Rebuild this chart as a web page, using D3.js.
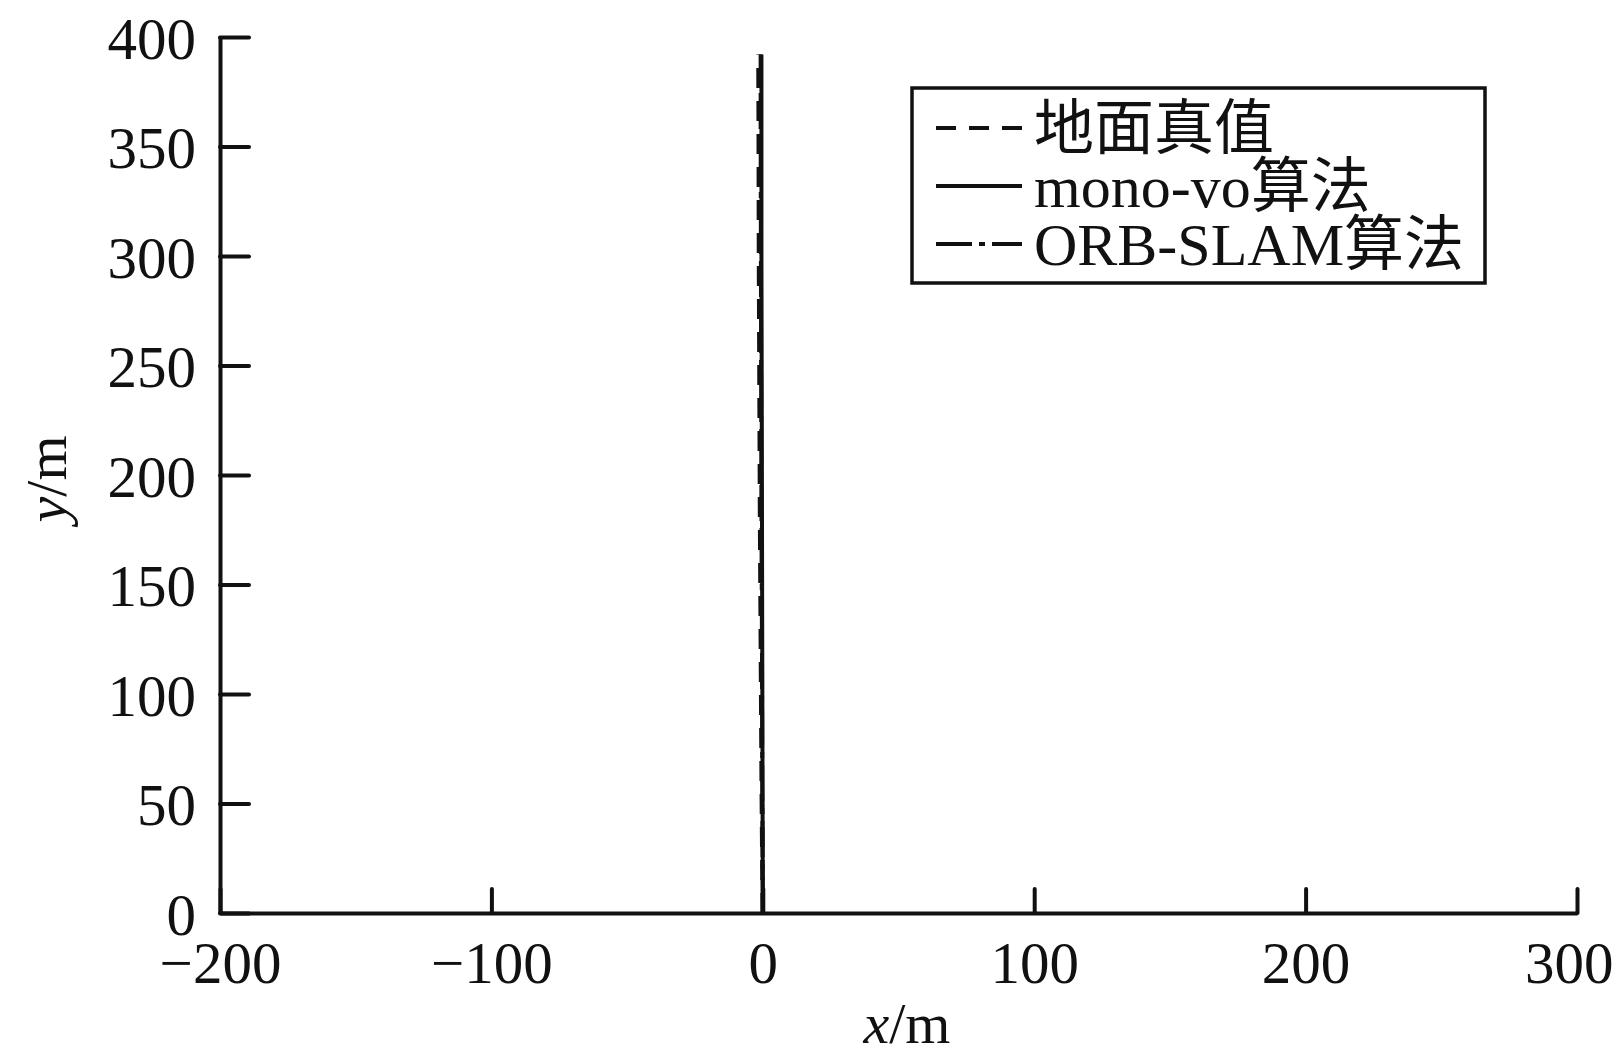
<!DOCTYPE html>
<html>
<head>
<meta charset="utf-8">
<script src="https://cdn.jsdelivr.net/npm/d3@7"></script>
<style>
  body { margin: 0; background: #fff; }
  text { font-family: "Liberation Serif", "Noto Sans CJK SC", serif; fill: #111; }
</style>
</head>
<body>
<div id="chart"></div>
<script>
// trajectory data (x/m, y/m)
var yVals = [0, 60, 120, 180, 240, 300, 360, 392];
var truthX = [0, -0.4, -0.7, -1.0, -1.2, -1.4, -1.5, -1.6];
var monoX = [0, -0.1, -0.2, -0.3, -0.4, -0.5, -0.5, -0.5];
var orbX = [0, -0.2, -0.3, -0.5, -0.6, -0.7, -0.8, -0.8];

var xTicks = [-200, -100, 0, 100, 200, 300];
var yTicks = [0, 50, 100, 150, 200, 250, 300, 350, 400];
var legendNames = ["地面真值", "mono-vo算法", "ORB-SLAM算法"];
var legendDash = ["20,13", null, "36,7,6,7"];

var W = 1616, H = 1060;
var svg = d3.select("#chart").append("svg")
  .attr("width", W)
  .attr("height", H);

var x = d3.scaleLinear().domain([-200, 300]).range([220, 1577]);
var y = d3.scaleLinear().domain([0, 400]).range([913, 37]);

var INK = "#111";

// axes: only bottom and left, ticks point inward
var xAxis = d3.axisBottom(x).tickValues(xTicks).tickSizeInner(-24).tickSizeOuter(0)
  .tickFormat(function(d) { return d < 0 ? "\u2212" + Math.abs(d) : d; });
var yAxis = d3.axisLeft(y).tickValues(yTicks).tickSizeInner(-29).tickSizeOuter(0);

var gx = svg.append("g")
  .attr("transform", "translate(0," + y(0) + ")")
  .call(xAxis);
gx.select(".domain").attr("stroke", INK).attr("stroke-width", 4);
gx.selectAll(".tick line").attr("stroke", INK).attr("stroke-width", 4).attr("stroke-linecap", "round");
gx.selectAll(".tick text")
  .attr("y", 28)
  .attr("dy", "0.71em")
  .style("font-size", "59px")
  .style("font-family", "Liberation Serif, serif")
  .attr("fill", INK);
// last label sits against the right edge, as in the original
gx.selectAll(".tick text")
  .filter(function(d) { return d === 300; })
  .attr("text-anchor", "end")
  .attr("x", W - 3 - x(300));

var gy = svg.append("g")
  .attr("transform", "translate(" + x(-200) + ",0)")
  .call(yAxis);
gy.select(".domain").attr("stroke", INK).attr("stroke-width", 4);
gy.selectAll(".tick line").attr("stroke", INK).attr("stroke-width", 4).attr("stroke-linecap", "round");
gy.selectAll(".tick text")
  .attr("x", -24)
  .attr("dy", "0.36em")
  .style("font-size", "59px")
  .style("font-family", "Liberation Serif, serif")
  .attr("fill", INK);

// axis titles
var xt = svg.append("text")
  .attr("x", 907)
  .attr("y", 1043)
  .attr("text-anchor", "middle")
  .style("font-size", "58px");
xt.append("tspan").style("font-style", "italic").text("x");
xt.append("tspan").text("/m");

var yt = svg.append("text")
  .attr("transform", "translate(66,479) rotate(-90)")
  .attr("text-anchor", "middle")
  .style("font-size", "58px");
yt.append("tspan").style("font-style", "italic").text("y");
yt.append("tspan").text("/m");

// trajectories
var line = d3.line()
  .x(function(d) { return x(d.x); })
  .y(function(d) { return y(d.y); });

function pts(xs) {
  return xs.map(function(v, i) { return {x: v, y: yVals[i]}; });
}

svg.append("path")
  .datum(pts(orbX))
  .attr("fill", "none")
  .attr("stroke", INK)
  .attr("stroke-width", 4)
  .attr("stroke-dasharray", legendDash[2])
  .attr("d", line);
svg.append("path")
  .datum(pts(monoX))
  .attr("fill", "none")
  .attr("stroke", INK)
  .attr("stroke-width", 4)
  .attr("d", line);
svg.append("path")
  .datum(pts(truthX))
  .attr("fill", "none")
  .attr("stroke", INK)
  .attr("stroke-width", 4.5)
  .attr("stroke-dasharray", legendDash[0])
  .attr("d", line);

// legend
var lg = svg.append("g");
lg.append("rect")
  .attr("x", 912)
  .attr("y", 88)
  .attr("width", 573)
  .attr("height", 195)
  .attr("fill", "#fff")
  .attr("stroke", INK)
  .attr("stroke-width", 3.5);

legendNames.forEach(function(name, i) {
  var cy = 128 + i * 58;
  lg.append("line")
    .attr("x1", 936)
    .attr("x2", 1022)
    .attr("y1", cy)
    .attr("y2", cy)
    .attr("stroke", INK)
    .attr("stroke-width", 4)
    .attr("stroke-dasharray", legendDash[i]);
  lg.append("text")
    .attr("x", 1034)
    .attr("y", cy)
    .attr("dy", "0.35em")
    .style("font-size", "60px")
    .text(name);
});
</script>
</body>
</html>
